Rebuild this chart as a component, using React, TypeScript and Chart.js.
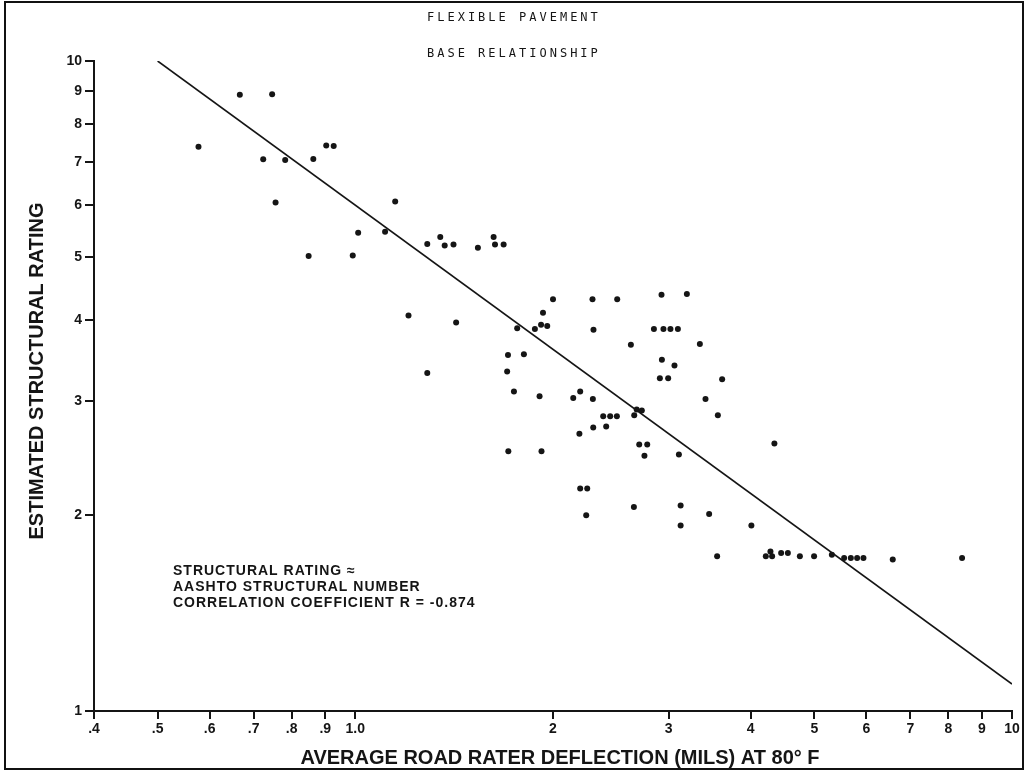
import React, { useEffect, useRef } from "react";
import { Chart, registerables } from "chart.js";

Chart.register(...registerables);

// Average Road Rater deflection (mils) at 80°F for each section
const deflection = [
  0.577, 0.667, 0.747, 0.724, 0.782, 0.756, 0.863, 0.903, 0.927, 0.849,
  0.991, 1.01, 1.11, 1.15, 1.287, 1.347, 1.368, 1.411, 1.205, 1.424,
  1.287, 1.537, 1.624, 1.632, 1.682, 2.0, 1.931, 1.918, 1.96, 1.877,
  1.764, 1.708, 1.806, 1.703, 1.744, 1.908, 2.147, 2.2, 2.3, 2.297,
  2.505, 2.305, 2.628, 2.385, 2.444, 2.502, 2.659, 2.682, 2.731, 3.414,
  3.565, 2.303, 2.41, 2.194, 1.71, 1.921, 2.706, 2.783, 2.756, 3.11,
  2.2, 2.255, 2.247, 2.656, 3.129, 3.129, 3.458, 2.926, 3.198, 2.849,
  2.946, 3.019, 3.099, 3.347, 2.93, 3.062, 2.909, 2.995, 3.619, 4.347,
  4.01, 3.556, 4.218, 4.312, 4.287, 4.451, 4.557, 4.753, 4.996, 5.317,
  5.551, 5.683, 5.81, 5.94, 6.583, 8.394,
];

// Estimated structural rating for each section
const rating = [
  7.38, 8.87, 8.89, 7.06, 7.04, 6.06, 7.07, 7.41, 7.4, 5.01,
  5.02, 5.44, 5.46, 6.08, 5.23, 5.36, 5.2, 5.22, 4.06, 3.96,
  3.31, 5.16, 5.36, 5.22, 5.22, 4.3, 4.1, 3.93, 3.91, 3.87,
  3.88, 3.53, 3.54, 3.33, 3.1, 3.05, 3.03, 3.1, 3.02, 4.3,
  4.3, 3.86, 3.66, 2.84, 2.84, 2.84, 2.85, 2.91, 2.9, 3.02,
  2.85, 2.73, 2.74, 2.67, 2.51, 2.51, 2.57, 2.57, 2.47, 2.48,
  2.2, 2.2, 2.0, 2.06, 2.07, 1.93, 2.01, 4.37, 4.38, 3.87,
  3.87, 3.87, 3.87, 3.67, 3.47, 3.4, 3.25, 3.25, 3.24, 2.58,
  1.93, 1.73, 1.73, 1.73, 1.76, 1.75, 1.75, 1.73, 1.73, 1.74,
  1.72, 1.72, 1.72, 1.72, 1.71, 1.72,
];

// Base relationship (regression line) end points
const fitDeflection = [0.5, 10];
const fitRating = [10, 1.1];

const xTickValues = [0.4, 0.5, 0.6, 0.7, 0.8, 0.9, 1, 2, 3, 4, 5, 6, 7, 8, 9, 10];
const xTickLabels = [".4", ".5", ".6", ".7", ".8", ".9", "1.0", "2", "3", "4", "5", "6", "7", "8", "9", "10"];
const yTickValues = [1, 2, 3, 4, 5, 6, 7, 8, 9, 10];
const yTickLabels = ["1", "2", "3", "4", "5", "6", "7", "8", "9", "10"];

const titleLines = ["FLEXIBLE PAVEMENT", "BASE RELATIONSHIP"];
const noteLines = [
  "STRUCTURAL RATING \u2248",
  "AASHTO STRUCTURAL NUMBER",
  "CORRELATION COEFFICIENT R = -0.874",
];
const xTitle = "AVERAGE ROAD RATER DEFLECTION (MILS) AT 80\u00B0 F";
const yTitle = "ESTIMATED STRUCTURAL RATING";

const INK = "#151515";
const SANS = "'Liberation Sans', Arial, Helvetica, sans-serif";

function labelFor(values: number[], labels: string[], v: number): string {
  for (let i = 0; i < values.length; i++) {
    if (Math.abs(values[i] - v) < 1e-9) return labels[i];
  }
  return "";
}

const paperText = {
  id: "paperText",
  afterDraw(chart: any) {
    const ctx = chart.ctx as CanvasRenderingContext2D;
    ctx.save();
    ctx.fillStyle = INK;
    ctx.textBaseline = "alphabetic";
    ctx.textAlign = "left";

    // heading in typewriter style
    ctx.font = "12px 'DejaVu Sans Mono', monospace";
    (ctx as any).letterSpacing = "3px";
    ctx.fillText(titleLines[0], 427, 21);
    ctx.fillText(titleLines[1], 427, 57);

    // note block
    ctx.font = "bold 14px " + SANS;
    (ctx as any).letterSpacing = "1px";
    noteLines.forEach((t, i) => ctx.fillText(t, 173, 575 + i * 16));

    // axis titles
    (ctx as any).letterSpacing = "0px";
    ctx.font = "bold 20px " + SANS;
    ctx.textAlign = "center";
    ctx.fillText(xTitle, 560, 764);

    ctx.translate(43, 371);
    ctx.rotate(-Math.PI / 2);
    ctx.fillText(yTitle, 0, 0);
    ctx.restore();
  },
};

export default function App() {
  const canvasRef = useRef<HTMLCanvasElement | null>(null);

  useEffect(() => {
    const canvas = canvasRef.current;
    if (!canvas) return;

    const points = deflection.map((x, i) => ({ x, y: rating[i] }));
    const fit = fitDeflection.map((x, i) => ({ x, y: fitRating[i] }));

    const chart = new Chart(canvas, {
      type: "scatter",
      data: {
        datasets: [
          {
            label: "sections",
            data: points,
            pointRadius: 3,
            pointBackgroundColor: INK,
            pointBorderWidth: 0,
            showLine: false,
          },
          {
            label: "base relationship",
            data: fit,
            showLine: true,
            borderColor: INK,
            borderWidth: 1.6,
            pointRadius: 0,
            fill: false,
          },
        ],
      },
      options: {
        responsive: false,
        animation: false,
        events: [],
        layout: { padding: { left: 0, top: 61, right: 16, bottom: 0 } },
        plugins: {
          legend: { display: false },
          tooltip: { enabled: false },
          title: { display: false },
        },
        scales: {
          x: {
            type: "logarithmic",
            position: "bottom",
            min: 0.4,
            max: 10,
            afterBuildTicks: (scale: any) => {
              scale.ticks = xTickValues.map((v) => ({ value: v }));
            },
            afterFit: (scale: any) => {
              scale.height = 62;
            },
            ticks: {
              autoSkip: false,
              maxRotation: 0,
              padding: 2,
              color: INK,
              font: { family: SANS, size: 14, weight: "bold" },
              callback: (v: any) => labelFor(xTickValues, xTickLabels, Number(v)),
            },
            grid: {
              drawOnChartArea: false,
              drawTicks: true,
              tickLength: 8,
              color: INK,
              lineWidth: 2,
            },
            border: { display: true, color: INK, width: 2 },
          },
          y: {
            type: "logarithmic",
            position: "left",
            min: 1,
            max: 10,
            afterBuildTicks: (scale: any) => {
              scale.ticks = yTickValues.map((v) => ({ value: v }));
            },
            afterFit: (scale: any) => {
              scale.width = 94;
            },
            ticks: {
              autoSkip: false,
              padding: 3,
              color: INK,
              font: { family: SANS, size: 14, weight: "bold" },
              callback: (v: any) => labelFor(yTickValues, yTickLabels, Number(v)),
            },
            grid: {
              drawOnChartArea: false,
              drawTicks: true,
              tickLength: 9,
              color: INK,
              lineWidth: 2,
            },
            border: { display: true, color: INK, width: 2 },
          },
        },
      },
      plugins: [paperText],
    } as any);

    return () => chart.destroy();
  }, []);

  return (
    <div style={{ position: "fixed", left: 0, top: 0, width: 1028, height: 773, background: "#fff" }}>
      <canvas
        ref={canvasRef}
        width={1028}
        height={773}
        style={{ position: "absolute", left: 0, top: 0, width: 1028, height: 773 }}
      />
      <div
        style={{
          position: "absolute",
          left: 4,
          top: 1,
          width: 1016,
          height: 765,
          border: "2.5px solid #111",
          pointerEvents: "none",
        }}
      />
    </div>
  );
}
